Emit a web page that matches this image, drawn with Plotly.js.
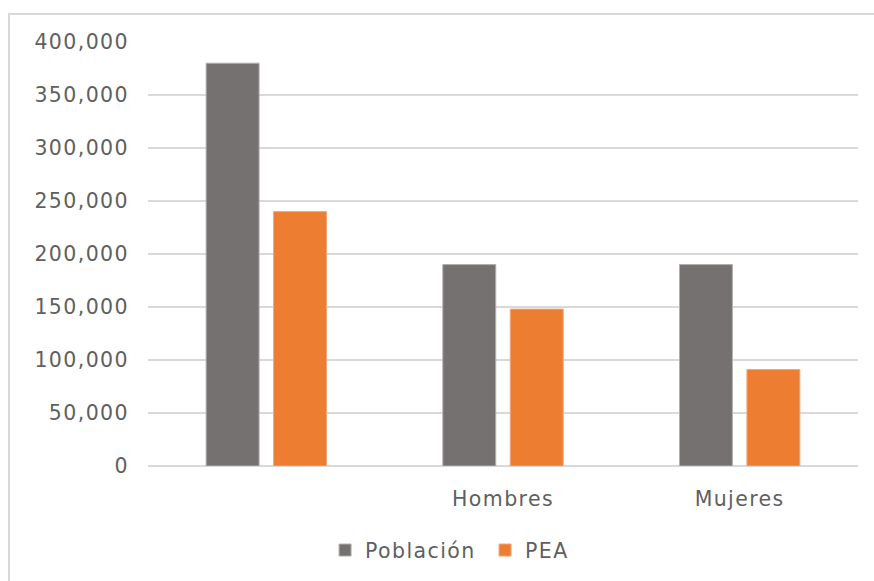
<!DOCTYPE html>
<html>
<head>
<meta charset="utf-8">
<script src="https://cdn.plot.ly/plotly-3.0.1.min.js"></script>
<style>
  html, body { margin: 0; padding: 0; background: #ffffff; }
  #frame { position: absolute; left: 8px; top: 13px; width: 900px; height: 600px; border-left: 2px solid #d9d9d9; border-top: 2px solid #d9d9d9; box-sizing: border-box; }
  #chart { position: absolute; left: 0; top: 0; width: 874px; height: 581px; }
  #chart text { letter-spacing: 1.4px; }
</style>
</head>
<body>
<div id="frame"></div>
<div id="chart"></div>
<script>
const categories = ["Total", "Hombres", "Mujeres"];
const tickLabels = ["", "Hombres", "Mujeres"];
const poblacion = [380000, 190000, 190000];
const pea = [240000, 148000, 91000];
const yTicks = [0, 50000, 100000, 150000, 200000, 250000, 300000, 350000, 400000];

const font = { family: "DejaVu Sans, sans-serif", size: 20.5, color: "#5f5f5f" };

const data = [
  { type: "bar", name: "Población", x: categories, y: poblacion,
    marker: { color: "#767171", line: { color: "#b0aeae", width: 1 } } },
  { type: "bar", name: "PEA", x: categories, y: pea,
    marker: { color: "#ED7D31", line: { color: "#f3a67a", width: 1 } } }
];

const layout = {
  width: 874, height: 581,
  paper_bgcolor: "rgba(0,0,0,0)", plot_bgcolor: "rgba(0,0,0,0)",
  margin: { l: 148, r: 16, t: 42, b: 115 },
  font: font,
  barmode: "group", bargap: 0.43, bargroupgap: 0.215,
  showlegend: true,
  legend: { orientation: "h", xref: "container", yref: "container",
            x: 0.555, xanchor: "center", y: 0.053, yanchor: "middle",
            font: font, itemwidth: 30, tracegroupgap: 0, entrywidth: 115 },
  xaxis: { type: "category", tickvals: categories, ticktext: tickLabels,
           showgrid: false, zeroline: false, showline: false, ticks: "",
           ticklabelstandoff: 18, tickfont: font },
  yaxis: { range: [0, 400000], tickvals: yTicks, tickformat: ",d",
           showgrid: true, gridcolor: "#d9d9d9", gridwidth: 1.5,
           zeroline: true, zerolinecolor: "#d9d9d9", zerolinewidth: 1.5,
           showline: false, ticks: "", ticklabelstandoff: 18, tickfont: font }
};

Plotly.newPlot("chart", data, layout, { displayModeBar: false, staticPlot: true });
</script>
</body>
</html>
